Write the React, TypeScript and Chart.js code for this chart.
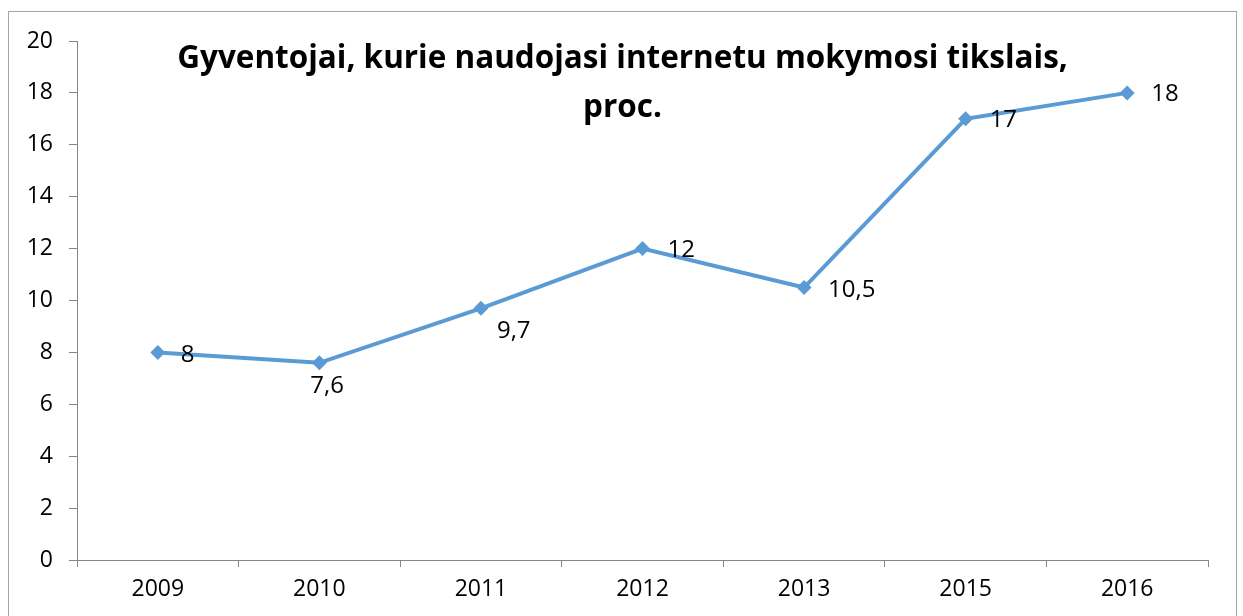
import React, { useEffect, useRef } from "react";
import { Chart, registerables } from "chart.js";

Chart.register(...registerables);

const categories = ["2009", "2010", "2011", "2012", "2013", "2015", "2016"];
const values = [8, 7.6, 9.7, 12, 10.5, 17, 18];
const valueLabels = ["8", "7,6", "9,7", "12", "10,5", "17", "18"];
const yTicks = [0, 2, 4, 6, 8, 10, 12, 14, 16, 18, 20];
const titleLines = ["Gyventojai, kurie naudojasi internetu mokymosi tikslais,", "proc."];

// label placement relative to the marker: [dx to left edge, dy to text middle]
const labelOffsets: [number, number][] = [
  [23, 3],
  [-9, 23],
  [16, 23],
  [25, 1.5],
  [24, 3],
  [24, 1.5],
  [24, 1.5],
];

const FONT = "'Open Sans', 'Noto Sans', sans-serif";
const W = 1243;
const H = 616;

const framePlugin = {
  id: "frame",
  beforeDraw(chart: any) {
    const ctx = chart.ctx;
    ctx.save();
    ctx.fillStyle = "#ffffff";
    ctx.fillRect(0, 0, W, H);
    ctx.strokeStyle = "#a6a6a6";
    ctx.lineWidth = 1;
    ctx.strokeRect(8.5, 11.5, 1228, 700);
    ctx.restore();
  },
  afterDraw(chart: any) {
    const ctx = chart.ctx;
    ctx.save();
    // title
    ctx.fillStyle = "#000000";
    ctx.textAlign = "center";
    ctx.textBaseline = "alphabetic";
    let size = 30;
    ctx.font = `bold ${size}px ${FONT}`;
    const w = ctx.measureText(titleLines[0]).width;
    size = (size * 891) / w;
    ctx.font = `bold ${size}px ${FONT}`;
    ctx.fillText(titleLines[0], 622.5, 68);
    ctx.fillText(titleLines[1], 622.5, 117);
    // data labels
    const meta = chart.getDatasetMeta(0);
    ctx.font = `24px ${FONT}`;
    ctx.textAlign = "left";
    ctx.textBaseline = "middle";
    meta.data.forEach((pt: any, i: number) => {
      const [dx, dy] = labelOffsets[i];
      ctx.fillText(valueLabels[i], pt.x + dx, pt.y + dy);
    });
    ctx.restore();
  },
};

export default function App() {
  const ref = useRef<HTMLCanvasElement | null>(null);
  useEffect(() => {
    if (!ref.current) return;
    const chart = new Chart(ref.current, {
      type: "line",
      data: {
        labels: categories,
        datasets: [
          {
            data: values,
            borderColor: "#5B9BD5",
            backgroundColor: "#5B9BD5",
            borderWidth: 4,
            pointStyle: "rectRot",
            pointRadius: 7.5,
            pointBorderWidth: 0,
            pointBackgroundColor: "#5B9BD5",
            tension: 0,
          },
        ],
      },
      options: {
        responsive: false,
        animation: false,
        layout: { padding: { left: 0, top: 41, right: 35, bottom: 0 } },
        plugins: {
          legend: { display: false },
          title: { display: false },
          tooltip: { enabled: false },
        },
        scales: {
          x: {
            type: "category",
            offset: true,
            grid: {
              offset: true,
              drawOnChartArea: false,
              drawTicks: true,
              tickLength: 7,
              color: "#868686",
            },
            border: { color: "#868686", width: 1 },
            ticks: {
              color: "#000000",
              font: { family: FONT, size: 23 },
              padding: 9,
              maxRotation: 0,
            },
            afterFit: (s: any) => {
              s.height = 56;
            },
          },
          y: {
            min: 0,
            max: 20,
            afterBuildTicks: (s: any) => {
              s.ticks = yTicks.map((v) => ({ value: v }));
            },
            grid: {
              drawOnChartArea: false,
              drawTicks: true,
              tickLength: 8,
              color: "#868686",
            },
            border: { color: "#868686", width: 1 },
            ticks: {
              color: "#000000",
              font: { family: FONT, size: 23 },
              padding: 16,
            },
            afterFit: (s: any) => {
              s.width = 77;
            },
          },
        },
      },
      plugins: [framePlugin],
    });
    return () => chart.destroy();
  }, []);
  return (
    <div style={{ position: "fixed", left: 0, top: 0, width: W, height: H, overflow: "hidden" }}>
      <canvas ref={ref} width={W} height={H} style={{ display: "block", width: W, height: H }} />
    </div>
  );
}
